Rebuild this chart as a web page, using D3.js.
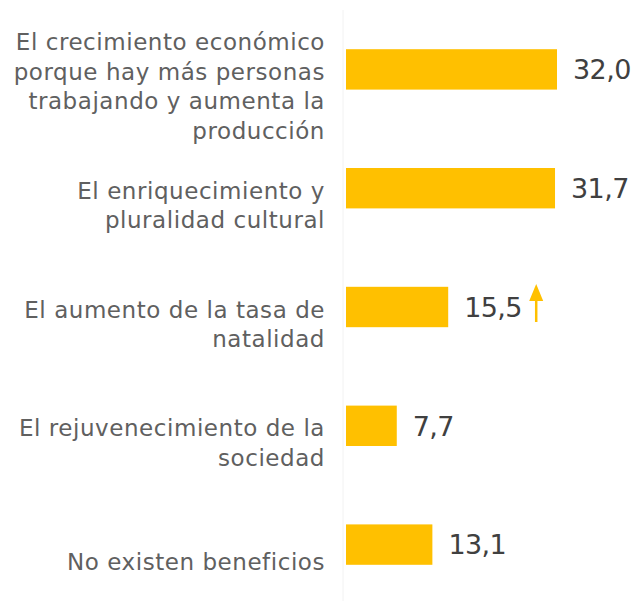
<!DOCTYPE html>
<html>
<head>
<meta charset="utf-8">
<script src="https://cdn.jsdelivr.net/npm/d3@7"></script>
<style>
  body { margin: 0; background: #fff; }
  text { font-family: "DejaVu Sans", sans-serif; }
</style>
</head>
<body>
<div class="canvas"></div>
<script>
const categories = [
  ["El crecimiento económico", "porque hay más personas", "trabajando y aumenta la", "producción"],
  ["El enriquecimiento y", "pluralidad cultural"],
  ["El aumento de la tasa de", "natalidad"],
  ["El rejuvenecimiento de la", "sociedad"],
  ["No existen beneficios"]
];
const values = [32.0, 31.7, 15.5, 7.7, 13.1];
const valueLabels = ["32,0", "31,7", "15,5", "7,7", "13,1"];
const rising = [false, false, true, false, false];

const dims = {width: 638, height: 601};
const margin = {top: 10, left: 346, right: 20, bottom: 0};

const svg = d3.select('.canvas')
  .append('svg')
  .attr('width', dims.width)
  .attr('height', dims.height);

const x = d3.scaleLinear()
  .domain([0, 32])
  .range([margin.left, margin.left + 211]);

const y = d3.scaleBand()
  .domain(d3.range(values.length))
  .range([10, 604])
  .paddingInner(0.66)
  .paddingOuter(0.33);

// faint axis line
svg.append('line')
  .attr('x1', 343).attr('x2', 343)
  .attr('y1', 10).attr('y2', dims.height)
  .attr('stroke', '#f2f2f2')
  .attr('stroke-width', 1);

svg.selectAll('rect.bar')
  .data(values)
  .enter()
  .append('rect')
  .attr('class', 'bar')
  .attr('x', x(0))
  .attr('y', (d, i) => y(i))
  .attr('width', d => x(d) - x(0))
  .attr('height', y.bandwidth())
  .attr('fill', '#FFC000');

svg.selectAll('text.val')
  .data(values)
  .enter()
  .append('text')
  .attr('class', 'val')
  .attr('x', d => x(d) + 16)
  .attr('y', (d, i) => y(i) + y.bandwidth() / 2)
  .attr('dy', '0.36em')
  .attr('font-size', 27)
  .attr('fill', '#404040')
  .attr('letter-spacing', -0.6)
  .text((d, i) => valueLabels[i]);

const lineH = 29.5;
const labels = svg.selectAll('text.cat')
  .data(categories)
  .enter()
  .append('text')
  .attr('class', 'cat')
  .attr('text-anchor', 'end')
  .attr('font-size', 23)
  .attr('letter-spacing', 0.55)
  .attr('fill', '#606060');

labels.each(function(lines, i) {
  const cy = y(i) + y.bandwidth() / 2 + 17;
  // keep the label block inside the top of the plot area
  const y0 = Math.max(34, cy - (lines.length - 1) * lineH / 2);
  d3.select(this).selectAll('tspan')
    .data(lines)
    .enter()
    .append('tspan')
    .attr('x', 325)
    .attr('y', (d, j) => y0 + j * lineH)
    .attr('dy', '0.36em')
    .text(d => d);
});

// trend arrow
values.forEach((v, i) => {
  if (!rising[i]) return;
  const ax = x(v) + 88;
  const cy = y(i) + y.bandwidth() / 2;
  svg.append('line')
    .attr('x1', ax).attr('x2', ax)
    .attr('y1', cy + 15).attr('y2', cy - 8)
    .attr('stroke', '#FFC000')
    .attr('stroke-width', 2.5);
  svg.append('path')
    .attr('d', `M${ax - 7},${cy - 6} L${ax},${cy - 23} L${ax + 7},${cy - 6} Z`)
    .attr('fill', '#FFC000');
});
</script>
</body>
</html>
